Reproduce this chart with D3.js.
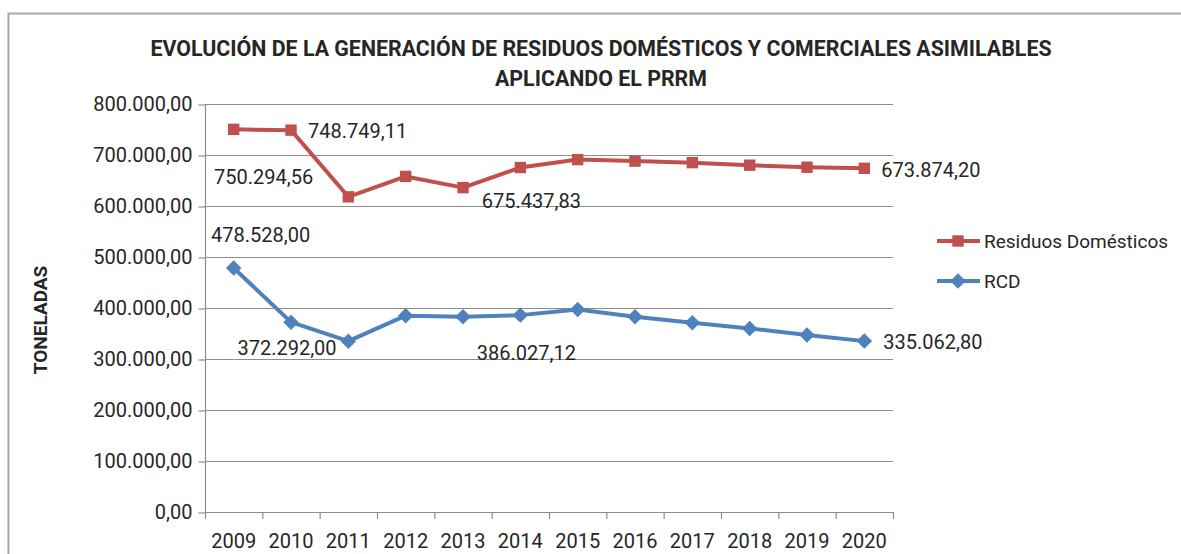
<!DOCTYPE html>
<html>
<head>
    <meta charset="utf-8">
    <title>Residuos domésticos y RCD</title>
    <style type="text/css">
        body { margin: 0; background: #fff; }
        text { font-family: Roboto, "Open Sans", sans-serif; fill: #262626; }
    </style>
</head>
<body>

<script src="https://d3js.org/d3.v7.min.js"></script>
<script type="text/javascript">

    // data
    var years = ["2009","2010","2011","2012","2013","2014","2015","2016","2017","2018","2019","2020"];
    var residuos = [750294.56, 748749.11, 618000, 658000, 636000, 675437.83, 691000, 688000, 685000, 680000, 676000, 673874.20];
    var rcd = [478528.00, 372292.00, 335000, 385000, 383000, 386027.12, 397000, 383000, 371000, 360000, 347000, 335062.80];
    var yTicks = [0, 100000, 200000, 300000, 400000, 500000, 600000, 700000, 800000];
    var titleLines = ["EVOLUCIÓN DE LA GENERACIÓN DE RESIDUOS DOMÉSTICOS Y COMERCIALES ASIMILABLES", "APLICANDO EL PRRM"];

    // which points carry a value label, and where it sits relative to the point
    var resLabels = [
        {i: 0, dx: 30, dy: 47, anchor: "middle"},
        {i: 1, dx: 17, dy: 1, anchor: "start"},
        {i: 5, dx: 11, dy: 33, anchor: "middle"},
        {i: 11, dx: 17, dy: 1, anchor: "start"}
    ];
    var rcdLabels = [
        {i: 0, dx: 27, dy: -33, anchor: "middle"},
        {i: 1, dx: -4, dy: 26, anchor: "middle"},
        {i: 5, dx: 6, dy: 38, anchor: "middle"},
        {i: 11, dx: 19, dy: 1, anchor: "start"}
    ];

    var width = 1181, height = 554;
    var red = "#C0504D", blue = "#4F81BD", grid = "#8c8c8c";

    var es = d3.formatLocale({decimal: ",", thousands: ".", grouping: [3], currency: ["", "€"]});
    var fmt = es.format(",.2f");

    var svg = d3.select("body").append("svg")
        .attr("width", width)
        .attr("height", height);

    // chart frame
    svg.append("rect")
        .attr("x", 8.5).attr("y", 13.5)
        .attr("width", 1200).attr("height", 600)
        .attr("fill", "none")
        .attr("stroke", "#a6a6a6")
        .attr("stroke-width", 2);

    var x = d3.scaleBand().domain(years).range([205, 893]);
    var y = d3.scaleLinear().domain([0, 800000]).range([512, 104]);
    var cx = function(d, i){ return x(years[i]) + x.bandwidth() / 2; };

    // gridlines
    svg.append("g").selectAll("line")
        .data(yTicks.slice(1))
        .join("line")
        .attr("x1", 205).attr("x2", 893)
        .attr("y1", function(d){ return y(d) + 0.5; })
        .attr("y2", function(d){ return y(d) + 0.5; })
        .attr("stroke", grid)
        .attr("stroke-width", 1.2);

    // y axis
    var yAxis = svg.append("g")
        .attr("transform", "translate(205.5,0.5)")
        .call(d3.axisLeft(y).tickValues(yTicks).tickSize(7).tickPadding(6).tickFormat(fmt));
    yAxis.selectAll("line, path").attr("stroke", grid).attr("stroke-width", 1.2);
    yAxis.select(".domain").attr("d", "M0,104V512");
    yAxis.selectAll("text")
        .style("font-family", "Roboto, sans-serif")
        .style("font-size", "20px")
        .attr("fill", "#262626");

    // x axis: labels at centres, tick marks between categories like the spreadsheet does
    svg.append("line")
        .attr("x1", 205).attr("x2", 894)
        .attr("y1", 512.5).attr("y2", 512.5)
        .attr("stroke", grid).attr("stroke-width", 1.2);
    svg.append("g").selectAll("line")
        .data(years.concat(["end"]))
        .join("line")
        .attr("x1", function(d){ return d === "end" ? 893.5 : x(d) + 0.5; })
        .attr("x2", function(d){ return d === "end" ? 893.5 : x(d) + 0.5; })
        .attr("y1", 512).attr("y2", 519)
        .attr("stroke", grid).attr("stroke-width", 1.2);
    var xAxis = svg.append("g")
        .attr("transform", "translate(0,512)")
        .call(d3.axisBottom(x).tickSize(0).tickPadding(22));
    xAxis.select(".domain").remove();
    xAxis.selectAll("text")
        .style("font-family", "Roboto, sans-serif")
        .style("font-size", "20px")
        .attr("fill", "#262626");

    // series
    var line = d3.line()
        .x(function(d, i){ return cx(d, i); })
        .y(function(d){ return y(d); });

    svg.append("path")
        .datum(residuos)
        .attr("d", line)
        .attr("fill", "none")
        .attr("stroke", red)
        .attr("stroke-width", 4)
        .attr("stroke-linejoin", "round");

    svg.append("path")
        .datum(rcd)
        .attr("d", line)
        .attr("fill", "none")
        .attr("stroke", blue)
        .attr("stroke-width", 4)
        .attr("stroke-linejoin", "round");

    // squares for one series, squares turned 45 degrees (excel diamonds) for the other
    var square = d3.symbol().type(d3.symbolSquare).size(130);
    var diamond = d3.symbol().type(d3.symbolSquare).size(120);

    svg.append("g").selectAll("path")
        .data(residuos)
        .join("path")
        .attr("d", square)
        .attr("transform", function(d, i){ return "translate(" + cx(d, i) + "," + y(d) + ")"; })
        .attr("fill", red);

    svg.append("g").selectAll("path")
        .data(rcd)
        .join("path")
        .attr("d", diamond)
        .attr("transform", function(d, i){ return "translate(" + cx(d, i) + "," + y(d) + ") rotate(45)"; })
        .attr("fill", blue);

    // value labels
    function addLabels(values, labels){
        svg.append("g").selectAll("text")
            .data(labels)
            .join("text")
            .attr("x", function(l){ return cx(values[l.i], l.i) + l.dx; })
            .attr("y", function(l){ return y(values[l.i]) + l.dy; })
            .attr("dy", "0.36em")
            .attr("text-anchor", function(l){ return l.anchor; })
            .style("font-size", "20px")
            .text(function(l){ return fmt(values[l.i]); });
    }
    addLabels(residuos, resLabels);
    addLabels(rcd, rcdLabels);

    // title, squeezed a little to the narrow look of the original face
    var title = svg.append("g");
    title.selectAll("text")
        .data(titleLines)
        .join("text")
        .attr("x", 0)
        .attr("y", function(d, i){ return i * 30; })
        .attr("text-anchor", "middle")
        .style("font-size", "23px")
        .style("font-weight", "bold")
        .attr("fill", "#000")
        .text(function(d){ return d; });
    var w = title.select("text").node().getComputedTextLength();
    title.attr("transform", "translate(601,56) scale(" + (902 / w) + ",1)");

    // y axis title
    svg.append("text")
        .attr("transform", "translate(47,320) rotate(-90)")
        .attr("text-anchor", "middle")
        .style("font-size", "19px")
        .style("font-weight", "bold")
        .attr("fill", "#000")
        .text("TONELADAS");

    // legend
    var legend = svg.append("g").attr("transform", "translate(937,0)");
    var items = [
        {name: "Residuos Domésticos", color: red, sym: square, rot: 0, y: 241},
        {name: "RCD", color: blue, sym: diamond, rot: 45, y: 281}
    ];
    items.forEach(function(it){
        legend.append("line")
            .attr("x1", 0).attr("x2", 43)
            .attr("y1", it.y).attr("y2", it.y)
            .attr("stroke", it.color).attr("stroke-width", 4);
        legend.append("path")
            .attr("d", it.sym)
            .attr("transform", "translate(21," + it.y + ") rotate(" + it.rot + ")")
            .attr("fill", it.color);
        legend.append("text")
            .attr("x", 47).attr("y", it.y)
            .attr("dy", "0.36em")
            .style("font-size", "19px")
            .text(it.name);
    });

</script>
</body>
</html>
